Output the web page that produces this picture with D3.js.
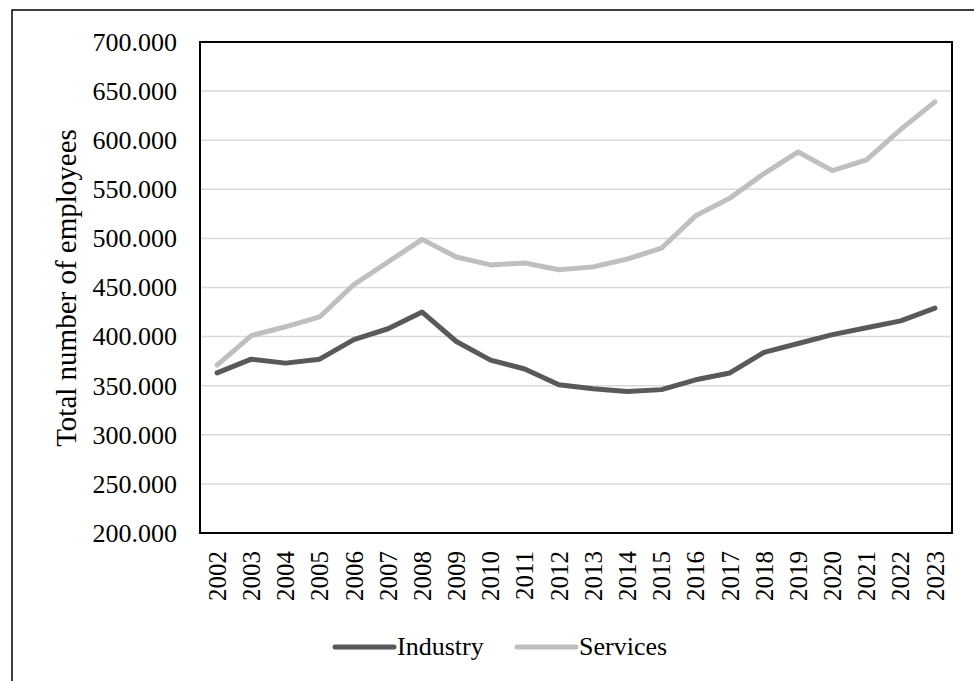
<!DOCTYPE html>
<html>
<head>
<meta charset="utf-8">
<script src="https://cdn.jsdelivr.net/npm/d3@7"></script>
<style>
  html, body { margin: 0; padding: 0; background: #fff; }
  svg { display: block; }
  svg text { font-family: "Liberation Serif", "Times New Roman", serif !important; fill: #000; }
</style>
</head>
<body>
<svg id="chart" width="974" height="681"></svg>
<script>
const years = ["2002","2003","2004","2005","2006","2007","2008","2009","2010","2011","2012",
               "2013","2014","2015","2016","2017","2018","2019","2020","2021","2022","2023"];
const industry = [363, 377, 373, 377, 397, 408, 425, 395, 376, 367, 351,
                  347, 344, 346, 356, 363, 384, 393, 402, 409, 416, 429];
const services = [371, 401, 410, 420, 453, 476, 499, 481, 473, 475, 468,
                  471, 479, 490, 523, 541, 566, 588, 569, 580, 611, 639];
const yTicks = [200, 250, 300, 350, 400, 450, 500, 550, 600, 650, 700];
const seriesNames = ["Industry", "Services"];
const seriesColors = ["#595959", "#bfbfbf"];

const serif = '"Liberation Serif", "Times New Roman", serif';
const svg = d3.select("#chart");
const plot = { left: 200, top: 42, right: 952, bottom: 533 };

// outer frame
svg.append("rect")
  .attr("x", 12).attr("y", 10).attr("width", 1000).attr("height", 700)
  .attr("fill", "none").attr("stroke", "#000").attr("stroke-width", 1.5);

const x = d3.scaleBand().domain(years).range([plot.left, plot.right]).padding(0);
const y = d3.scaleLinear().domain([200, 700]).range([plot.bottom, plot.top]);

// gridlines
svg.append("g").selectAll("line").data(yTicks.filter(t => t !== 200 && t !== 700)).join("line")
  .attr("x1", plot.left).attr("x2", plot.right)
  .attr("y1", d => y(d)).attr("y2", d => y(d))
  .attr("stroke", "#d9d9d9").attr("stroke-width", 1.5);

// y axis labels
const fmt = d => d3.format("d")(d) + ".000";
const yAxis = d3.axisLeft(y).tickValues(yTicks).tickSize(0).tickPadding(23).tickFormat(fmt);
const gy = svg.append("g").attr("transform", `translate(${plot.left},0)`).call(yAxis)
  .attr("font-family", serif).attr("font-size", 26);
gy.select(".domain").remove();
gy.selectAll("text").attr("fill", "#000");

// x axis labels
const xAxis = d3.axisBottom(x).tickSize(0).tickPadding(0);
const gx = svg.append("g").attr("transform", `translate(0,${plot.bottom})`).call(xAxis)
  .attr("font-family", serif).attr("font-size", 25);
gx.select(".domain").remove();
gx.selectAll("text")
  .attr("fill", "#000")
  .attr("transform", "rotate(-90)")
  .attr("x", -18).attr("y", 0).attr("dy", "0.35em")
  .attr("text-anchor", "end");

// plot border
svg.append("rect")
  .attr("x", plot.left).attr("y", plot.top)
  .attr("width", plot.right - plot.left).attr("height", plot.bottom - plot.top)
  .attr("fill", "none").attr("stroke", "#000").attr("stroke-width", 2);

// lines
const line = d3.line().x((d, i) => x(years[i]) + x.bandwidth() / 2).y(d => y(d));
[industry, services].forEach((s, i) => {
  svg.append("path").datum(s)
    .attr("d", line)
    .attr("fill", "none")
    .attr("stroke", seriesColors[i])
    .attr("stroke-width", 5)
    .attr("stroke-linecap", "round")
    .attr("stroke-linejoin", "round");
});

// y title
svg.append("text")
  .attr("transform", "translate(76,288) rotate(-90)")
  .attr("text-anchor", "middle")
  .attr("font-family", serif)
  .attr("font-size", 29)
  .text("Total number of employees");

// legend
const legendItems = [{ x: 335, tx: 397 }, { x: 517, tx: 579 }];
seriesNames.forEach((name, i) => {
  const g = svg.append("g");
  g.append("line")
    .attr("x1", legendItems[i].x).attr("x2", legendItems[i].tx - 3)
    .attr("y1", 647).attr("y2", 647)
    .attr("stroke", seriesColors[i]).attr("stroke-width", 5).attr("stroke-linecap", "round");
  g.append("text")
    .attr("x", legendItems[i].tx).attr("y", 655)
    .attr("font-family", serif)
    .attr("font-size", 26)
    .text(name);
});
</script>
</body>
</html>
